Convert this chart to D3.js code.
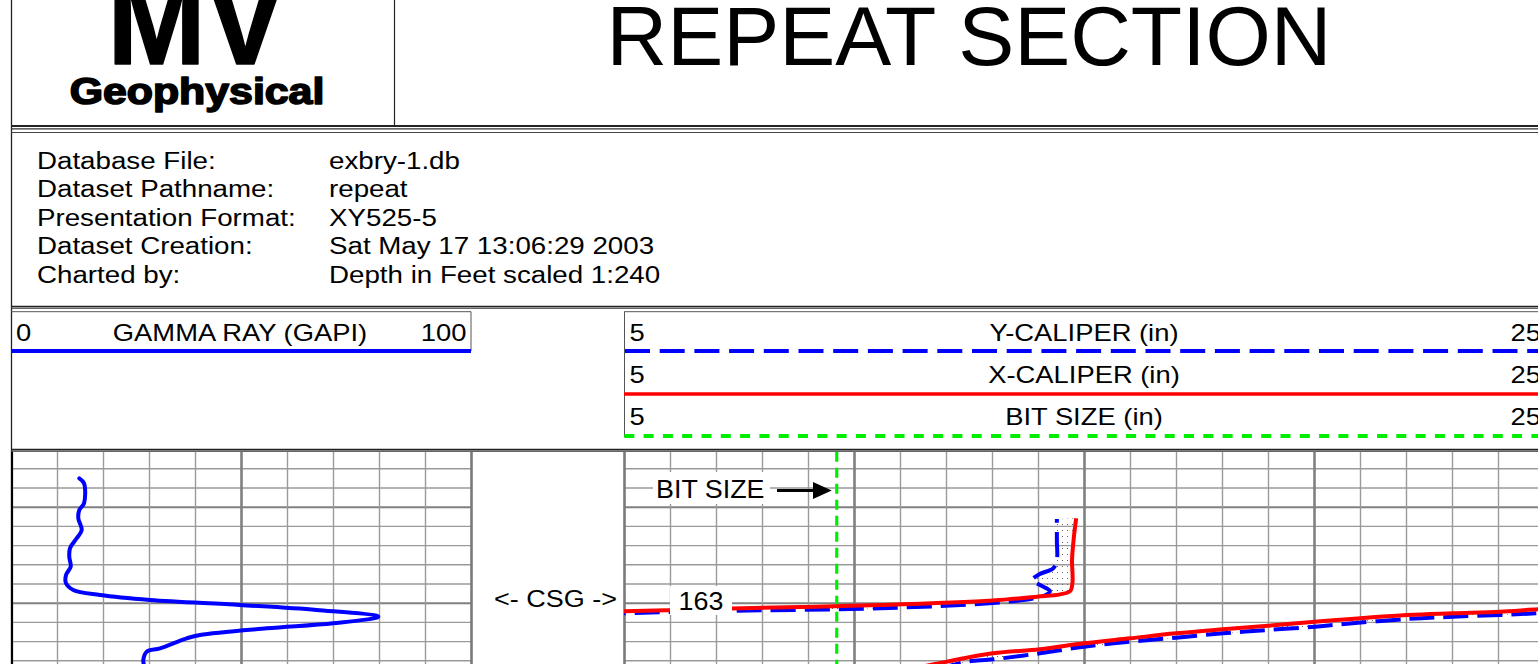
<!DOCTYPE html>
<html>
<head>
<meta charset="utf-8">
<script src="https://cdn.jsdelivr.net/npm/d3@7"></script>
<style>
    body { margin: 0; background: #fff; overflow: hidden; }
    text { font-family: "Liberation Sans", Arial, sans-serif; fill: #000; }
</style>
</head>
<body>
<div id="chart"></div>
<script>
const infoLabels = ["Database File:", "Dataset Pathname:", "Presentation Format:", "Dataset Creation:", "Charted by:"];
const infoValues = ["exbry-1.db", "repeat", "XY525-5", "Sat May 17 13:06:29 2003", "Depth in Feet scaled 1:240"];

const grRange = [0, 100];
const calRange = [5, 25];
const bitSize = 9.625;
const casingDepthLabel = "163";

// gamma ray (GAPI) by depth (ft)
const gammaDepth = [147.04, 147.56, 149.65, 150.34, 151.21, 152.43, 153.29, 154.33, 155.21, 156.25, 157.11, 157.98,
    158.68, 159.20, 159.72, 160.24, 160.76, 161.46, 162.15, 162.67, 163.36, 163.71, 164.75, 165.10, 165.97, 166.49];
const gammaValue = [14.85, 15.87, 15.87, 14.85, 14.63, 15.37, 14.28, 12.83, 12.67, 12.98, 11.96, 11.96,
    13.54, 19.35, 30.22, 49.78, 66.46, 79.85, 70.07, 55.59, 41.09, 38.20, 32.39, 29.50, 28.76, 28.91];

// X-caliper (in), two pieces
const xCalUpperDepth = [151.20, 153.16, 155.55, 157.84, 158.78, 159.13, 159.38, 159.77, 160.24, 160.45, 160.60, 160.78, 160.90, 160.97];
const xCalUpperValue = [14.83, 14.78, 14.74, 14.75, 14.70, 14.48, 13.98, 13.02, 10.57, 8.83, 7.33, 6.00, 5.00, 4.48];
const xCalLowerDepth = [160.55, 160.69, 160.94, 161.10, 161.28, 161.98, 162.40, 162.77, 163.19, 163.71, 164.23, 164.85, 165.27, 166.39, 166.70];
const xCalLowerValue = [25.57, 24.87, 24.04, 23.02, 22.02, 20.02, 19.00, 18.02, 17.00, 16.00, 15.00, 14.04, 13.02, 11.76, 11.44];

// Y-caliper (in), two pieces
const yCalUpperDepth = [151.28, 153.47, 155.55, 156.42, 157.01, 157.64, 158.05, 158.47, 158.78, 159.20, 159.56, 160.03, 160.58, 160.86, 161.10, 161.18];
const yCalUpperValue = [14.41, 14.41, 14.41, 14.33, 14.04, 13.87, 14.00, 14.17, 14.26, 14.17, 13.89, 13.02, 10.57, 7.09, 5.00, 4.48];
const yCalLowerDepth = [160.97, 161.10, 161.28, 161.46, 161.70, 162.25, 162.50, 162.84, 163.19, 163.65, 164.06, 164.58, 165.27, 165.90, 166.15, 166.70];
const yCalLowerValue = [25.57, 24.87, 24.04, 23.02, 22.02, 20.57, 20.02, 19.00, 18.02, 17.00, 16.00, 15.00, 14.04, 13.02, 12.45, 11.98];

const depthTicks = d3.range(146, 168, 2);
const grTicks = d3.range(0, 101, 10);
const calTicks = d3.range(5, 26, 1);

// ---- page ----
const W = 1538, H = 664;
const svg = d3.select("#chart").append("svg")
    .attr("width", W)
    .attr("height", H);

svg.append("rect").attr("width", W).attr("height", H).attr("fill", "#fff");

const gridTop = 451.7, gridBottom = 690;
const y = d3.scaleLinear().domain([150, 160]).range([506.7, 602.7]);
const xGR = d3.scaleLinear().domain(grRange).range([11, 471]);
const xCal = d3.scaleLinear().domain(calRange).range([624, 1544]);

const zip = (ds, vs) => ds.map((d, i) => ({ d: d, v: vs[i] }));

// text stretched horizontally like the original print
function label(x, yy, str, size, opts = {}) {
    const t = svg.append("text")
        .attr("transform", `translate(${x},${yy}) scale(${opts.sx || 1},1)`)
        .attr("text-anchor", opts.anchor || "start")
        .attr("font-size", size)
        .text(str);
    if (opts.bold) t.attr("font-weight", "bold");
    if (opts.stroke) t.attr("stroke", "#000").attr("stroke-width", opts.stroke).attr("stroke-linejoin", "round");
    return t;
}

function hline(x1, x2, yy, w, c) {
    svg.append("line").attr("x1", x1).attr("x2", x2).attr("y1", yy).attr("y2", yy)
        .attr("stroke", c || "#222").attr("stroke-width", w || 1);
}
function vline(xx, y1, y2, w, c) {
    svg.append("line").attr("x1", xx).attr("x2", xx).attr("y1", y1).attr("y2", y2)
        .attr("stroke", c || "#222").attr("stroke-width", w || 1);
}

// ---- frame ----
vline(11.5, 0, 452, 1.3);
vline(394.5, 0, 126, 1.2);
hline(11, W, 126, 2);
hline(11, W, 128.8, 1.3, "#333");
hline(11, W, 132.5, 1, "#444");
hline(11, W, 306.3, 1.3);
hline(11, W, 308.2, 1.3, "#333");
hline(11, 471, 311.7, 1, "#555");
hline(624, W, 311.7, 1, "#555");
vline(471, 311.7, 351, 1, "#555");
vline(624.5, 311.7, 437, 1, "#555");
hline(11, W, 449.5, 1.3);
hline(11, W, 451.2, 1.3, "#333");

// ---- logo & title ----
label(196, 64, "MV", 126, { anchor: "middle", bold: true, sx: 0.94, stroke: 1.5 });
label(197, 104, "Geophysical", 36, { anchor: "middle", bold: true, sx: 1.19, stroke: 1.6 });
label(969, 65, "REPEAT SECTION", 84, { anchor: "middle", sx: 1.0 });

// ---- info block ----
infoLabels.forEach((s, i) => label(37, 168.5 + i * 28.6, s, 23.3, { sx: 1.19 }));
infoValues.forEach((s, i) => label(329, 168.5 + i * 28.6, s, 23.3, { sx: 1.19 }));

// ---- track headers ----
const hs = 23, hsx = 1.19;
label(16, 341, "0", hs, { sx: hsx });
label(240, 341, "GAMMA RAY (GAPI)", hs, { anchor: "middle", sx: hsx });
label(466.5, 341, "100", hs, { anchor: "end", sx: hsx });
hline(11, 471, 351, 4, "#0000ff");

const calNames = ["Y-CALIPER (in)", "X-CALIPER (in)", "BIT SIZE (in)"];
calNames.forEach((s, i) => {
    const b = 340.7 + i * 42.2;
    label(629.5, b, calRange[0], hs, { sx: hsx });
    label(1084, b, s, hs, { anchor: "middle", sx: hsx });
    label(1541, b, calRange[1], hs, { anchor: "end", sx: hsx });
});
svg.append("line").attr("x1", 625).attr("x2", W).attr("y1", 351).attr("y2", 351)
    .attr("stroke", "#0000ff").attr("stroke-width", 4).attr("stroke-dasharray", "25 9.7");
hline(624, W, 394, 3.5, "#ff0000");
svg.append("line").attr("x1", 624.3).attr("x2", W).attr("y1", 436).attr("y2", 436)
    .attr("stroke", "#00ee00").attr("stroke-width", 4).attr("stroke-dasharray", "10 9.3");

// ---- grids ----
function trackGrid(x, ticks, isMajor, isBorder) {
    const [x0, x1] = x.range();
    const g = svg.append("g");

    g.append("g")
        .attr("transform", `translate(${x0},0)`)
        .call(d3.axisLeft(y).tickValues(depthTicks).tickSize(-(x1 - x0)).tickFormat(""))
        .call(a => a.select(".domain").remove())
        .selectAll(".tick line")
        .attr("stroke", d => d % 10 === 0 ? "#808080" : "#9a9a9a")
        .attr("stroke-width", d => d % 10 === 0 ? 2 : 1.4);

    g.append("g")
        .attr("transform", `translate(0,${gridTop})`)
        .call(d3.axisBottom(x).tickValues(ticks).tickSize(gridBottom - gridTop).tickFormat(""))
        .call(a => a.select(".domain").remove())
        .selectAll(".tick line")
        .attr("stroke", d => isBorder(d) ? "#7a7a7a" : isMajor(d) ? "#808080" : "#9a9a9a")
        .attr("stroke-width", d => isBorder(d) ? 2.6 : isMajor(d) ? 2.6 : 1.4);
}
trackGrid(xGR, grTicks, d => d === 50, d => d === 100);
trackGrid(xCal, calTicks, d => d % 5 === 0, d => d === 5);
vline(12, gridTop, H, 2.2, "#000");

// ---- curves ----
const defs = svg.append("defs");
defs.append("clipPath").attr("id", "clipGR").append("rect")
    .attr("x", 11).attr("y", gridTop).attr("width", 460).attr("height", gridBottom - gridTop);
defs.append("clipPath").attr("id", "clipCal").append("rect")
    .attr("x", 624).attr("y", gridTop).attr("width", 920).attr("height", gridBottom - gridTop);
const pat = defs.append("pattern").attr("id", "stipple")
    .attr("width", 5).attr("height", 6).attr("patternUnits", "userSpaceOnUse");
pat.append("rect").attr("x", 2).attr("y", 2).attr("width", 1).attr("height", 1).attr("fill", "#666");

const grLine = d3.line().x(d => xGR(d.v)).y(d => y(d.d)).curve(d3.curveCatmullRom.alpha(0.5));
const calLine = d3.line().x(d => xCal(d.v)).y(d => y(d.d)).curve(d3.curveCatmullRom.alpha(0.5));
const polyLine = d3.line().x(d => xCal(d.v)).y(d => y(d.d));

svg.append("g").attr("clip-path", "url(#clipGR)")
    .append("path")
    .attr("d", grLine(zip(gammaDepth, gammaValue)))
    .attr("fill", "none").attr("stroke", "#0000ff").attr("stroke-width", 4)
    .attr("stroke-linejoin", "round").attr("stroke-linecap", "round");

const cal = svg.append("g").attr("clip-path", "url(#clipCal)");

const xUp = zip(xCalUpperDepth, xCalUpperValue), yUp = zip(yCalUpperDepth, yCalUpperValue);
const xLo = zip(xCalLowerDepth, xCalLowerValue), yLo = zip(yCalLowerDepth, yCalLowerValue);

// stipple between the two calipers
[[xUp, yUp], [xLo, yLo]].forEach(([a, b]) => {
    cal.append("path")
        .attr("d", polyLine(a.concat(b.slice().reverse())) + "Z")
        .attr("fill", "url(#stipple)").attr("stroke", "none");
});

// bit size
cal.append("line")
    .attr("x1", xCal(bitSize)).attr("x2", xCal(bitSize))
    .attr("y1", gridTop).attr("y2", gridBottom)
    .attr("stroke", "#00ee00").attr("stroke-width", 3.2).attr("stroke-dasharray", "10 6");

[yUp, yLo].forEach((s, i) => {
    cal.append("path").attr("d", calLine(s))
        .attr("fill", "none").attr("stroke", "#0000ff").attr("stroke-width", 4)
        .attr("stroke-dasharray", "25 9")
        .attr("stroke-dashoffset", i === 0 ? 21 : 0);
});
[xUp, xLo].forEach(s => {
    cal.append("path").attr("d", calLine(s))
        .attr("fill", "none").attr("stroke", "#ff0000").attr("stroke-width", 4)
        .attr("stroke-linejoin", "round");
});

// ---- annotations ----
svg.append("rect").attr("x", 653).attr("y", 472).attr("width", 117).attr("height", 32).attr("fill", "#fff");
label(656, 497.7, "BIT SIZE", 25.6, { sx: 1.05 });
hline(777, 816, 490.5, 3, "#000");
svg.append("path")
    .attr("d", `M813,482L${xCal(bitSize) - 5},490.5L813,499Z`)
    .attr("fill", "#000");

svg.append("rect").attr("x", 670).attr("y", 586).attr("width", 62).attr("height", 29).attr("fill", "#fff");
label(678.5, 610, casingDepthLabel, 25.6, { sx: 1.05 });
label(494, 606.7, "<- CSG ->", 23.3, { sx: 1.16 });
</script>
</body>
</html>
